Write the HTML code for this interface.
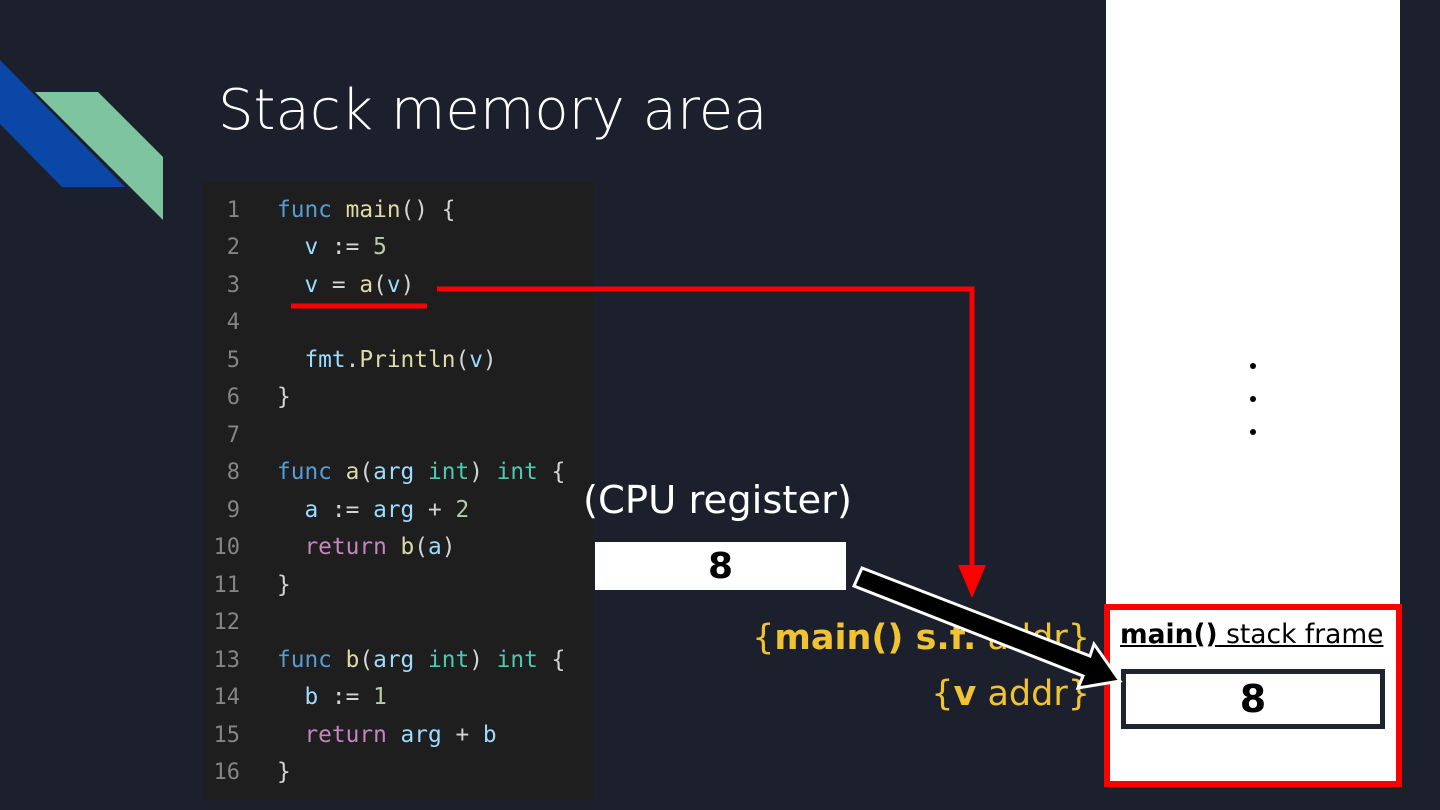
<!DOCTYPE html>
<html><head><style>
body{margin:0;width:1440px;height:810px;background:#1b202c;overflow:hidden;position:relative;font-family:"DejaVu Sans","Liberation Sans",sans-serif}
.a{position:absolute;white-space:pre}
.code{position:absolute;left:203px;top:182px;width:390px;height:618px;background:#1e1e1e}
.ln{position:absolute;font-family:"DejaVu Sans Mono","Liberation Mono",monospace;font-size:22px;color:#858585;width:36px;text-align:right;left:204px}
.cl{position:absolute;font-family:"DejaVu Sans Mono","Liberation Mono",monospace;font-size:22.8px;color:#d4d4d4;left:277px;white-space:pre}
.k{color:#569cd6}.f{color:#dcdcaa}.v{color:#9cdcfe}.n{color:#b5cea8}.r{color:#c586c0}.t{color:#4ec9b0}
</style></head><body>
<svg class="a" style="left:0;top:0" width="1440" height="810">
<polygon points="0,60 125,187 62,187 0,124" fill="#0b47a6"/>
<polygon points="35,92 98,92 163,157 163,220" fill="#7ec4a0"/>
</svg>
<div class="a" style="left:218px;top:78px;font-size:56px;color:#fff;font-weight:300">Stack memory area</div>
<div class="code"></div>
<div class="ln" style="top:198px">1</div><div class="cl" style="top:197px"><span class="k">func</span> <span class="f">main</span>() {</div>
<div class="ln" style="top:235px">2</div><div class="cl" style="top:234px">  <span class="v">v</span> := <span class="n">5</span></div>
<div class="ln" style="top:273px">3</div><div class="cl" style="top:272px">  <span class="v">v</span> = <span class="f">a</span>(<span class="v">v</span>)</div>
<div class="ln" style="top:310px">4</div>
<div class="ln" style="top:348px">5</div><div class="cl" style="top:347px">  <span class="v">fmt</span>.<span class="f">Println</span>(<span class="v">v</span>)</div>
<div class="ln" style="top:385px">6</div><div class="cl" style="top:384px">}</div>
<div class="ln" style="top:423px">7</div>
<div class="ln" style="top:460px">8</div><div class="cl" style="top:459px"><span class="k">func</span> <span class="f">a</span>(<span class="v">arg</span> <span class="t">int</span>) <span class="t">int</span> {</div>
<div class="ln" style="top:498px">9</div><div class="cl" style="top:497px">  <span class="v">a</span> := <span class="v">arg</span> + <span class="n">2</span></div>
<div class="ln" style="top:535px">10</div><div class="cl" style="top:534px">  <span class="r">return</span> <span class="f">b</span>(<span class="v">a</span>)</div>
<div class="ln" style="top:573px">11</div><div class="cl" style="top:572px">}</div>
<div class="ln" style="top:610px">12</div>
<div class="ln" style="top:648px">13</div><div class="cl" style="top:647px"><span class="k">func</span> <span class="f">b</span>(<span class="v">arg</span> <span class="t">int</span>) <span class="t">int</span> {</div>
<div class="ln" style="top:685px">14</div><div class="cl" style="top:684px">  <span class="v">b</span> := <span class="n">1</span></div>
<div class="ln" style="top:723px">15</div><div class="cl" style="top:722px">  <span class="r">return</span> <span class="v">arg</span> + <span class="v">b</span></div>
<div class="ln" style="top:760px">16</div><div class="cl" style="top:759px">}</div>

<div class="a" style="left:1106px;top:0;width:294px;height:605px;background:#fff"></div>
<div class="a" style="left:1104px;top:604px;width:286px;height:171px;background:#fff;border:6px solid #f00"></div>
<div class="a" style="left:1121px;top:669px;width:254px;height:50px;background:#fff;border:5px solid #1e2430;text-align:center;font-size:38px;font-weight:bold;line-height:50px;color:#000">8</div>
<div class="a" style="left:1120px;top:619px;font-size:26.5px;color:#000;text-decoration:underline"><b>main()</b> stack frame</div>
<svg class="a" style="left:0;top:0" width="1440" height="810">
<circle cx="1253" cy="366" r="3" fill="#000"/><circle cx="1253" cy="399" r="3" fill="#000"/><circle cx="1253" cy="432" r="3" fill="#000"/>
<line x1="291" y1="306" x2="427" y2="306" stroke="#f00" stroke-width="5"/>
<polyline points="437,289 972,289 972,575" fill="none" stroke="#f00" stroke-width="5"/>
<polygon points="958,565 986,565 972,598" fill="#f00"/>
</svg>
<div class="a" style="left:583px;top:478px;font-size:38.5px;color:#fff">(CPU register)</div>
<div class="a" style="left:595px;top:542px;width:251px;height:48px;background:#fff;text-align:center;font-size:36px;font-weight:bold;line-height:50px;color:#000">8</div>
<div class="a" style="right:350px;top:618px;font-size:35px;color:#f1c232">{<b>main() s.f.</b> addr}</div>
<div class="a" style="right:350px;top:674px;font-size:35px;color:#f1c232">{<b>v</b> addr}</div>
<svg class="a" style="left:0;top:0" width="1440" height="810">
<polygon points="862,568 1090,656 1094,644 1120,681 1078,688 1083,676 854,586" fill="#000" stroke="#fff" stroke-width="3"/>
</svg>
</body></html>
